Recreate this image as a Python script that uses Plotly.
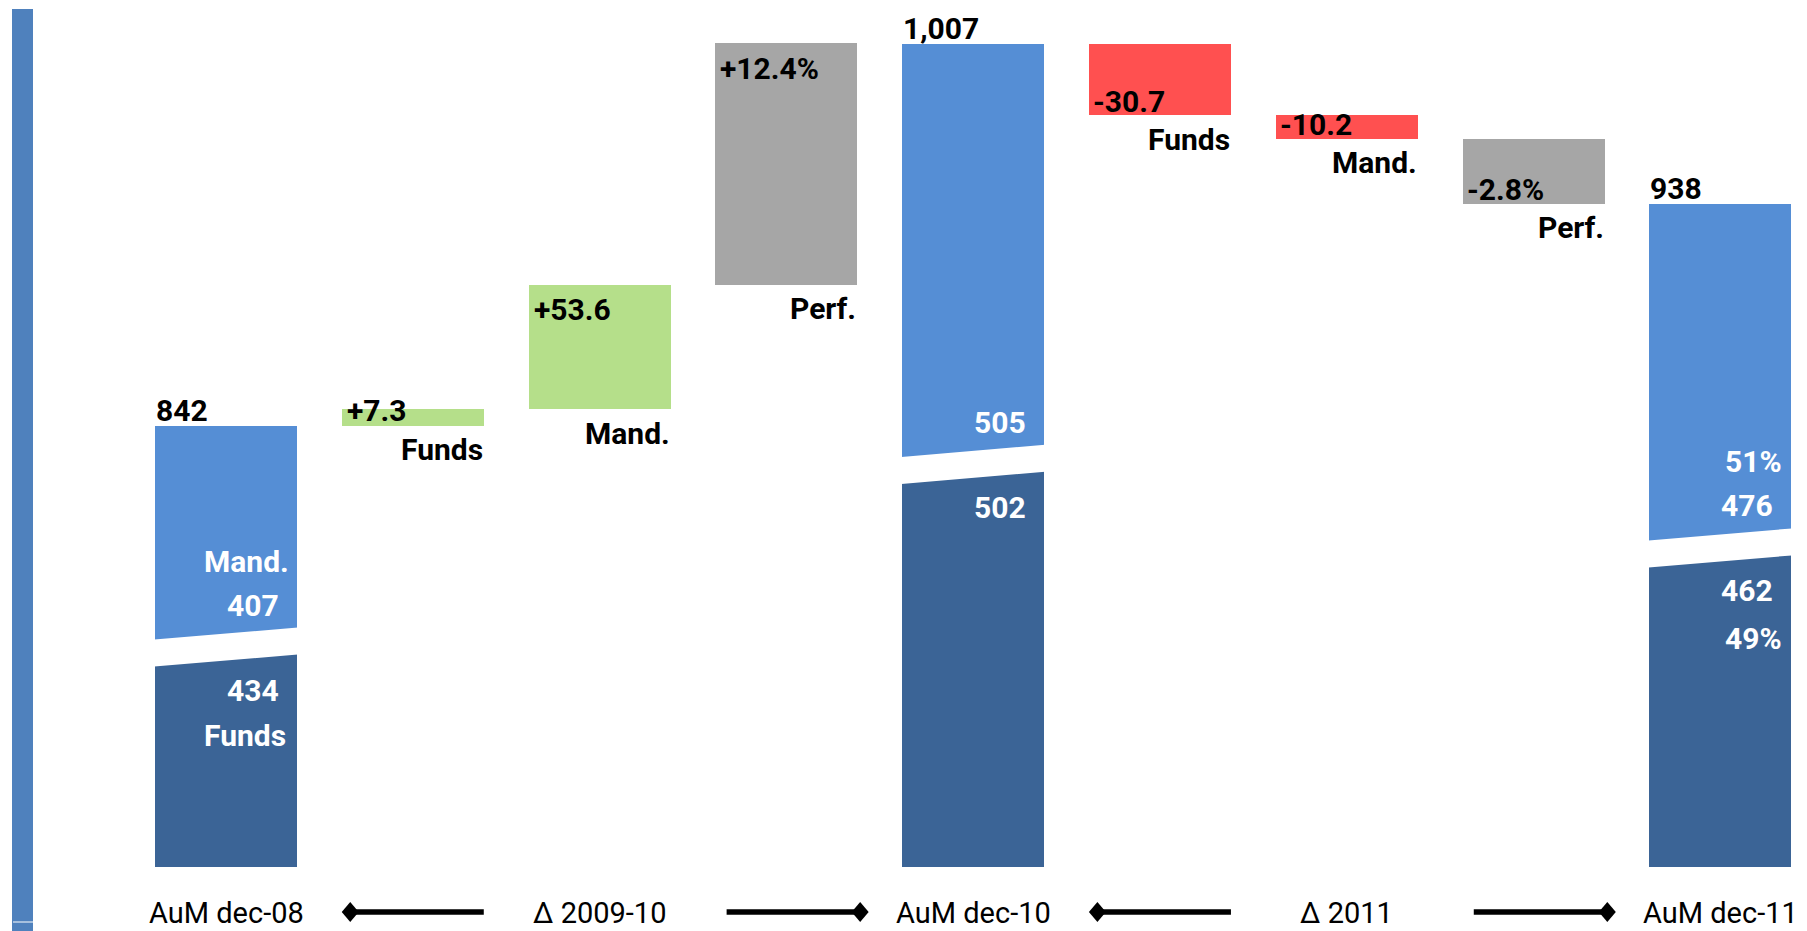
import plotly.graph_objects as go

# ---- data -------------------------------------------------------------
categories = ["AuM dec-08", "Δ 2009-10", "AuM dec-10", "Δ 2011", "AuM dec-11"]
aum_totals = [842, 1007, 938]           # total AuM at each date
aum_funds = [434, 502, 462]             # of which funds
aum_mand = [407, 505, 476]              # of which mandates
flow_names = ["Funds", "Mand.", "Perf."]
flows_2009_10 = [7.3, 53.6]             # net flows, funds / mandates
perf_2009_10 = 12.4                     # performance, % of opening AuM
flows_2011 = [-30.7, -10.2]
perf_2011 = -2.8

# ---- styling ----------------------------------------------------------
C_MAND = "#558ED5"
C_FUNDS = "#3B6496"
C_UP = "#B5DF8A"
C_DOWN = "#FF5050"
C_PERF = "#A6A6A6"
C_SIDE = "#4F81BD"
FONT = "Roboto"
BOLD = 30
REG = 29

W = 0.76                 # bar width (slot units)
Y0, Y1 = 651.5, 1026     # visible value window (broken axis)
FIG_W, FIG_H, MB = 1807, 931, 64
PX_PER_UNIT = (FIG_H - MB) / (Y1 - Y0)
GAP_DROP = 3.3           # gap centre offset below proportional split
GAP_HALF = 13.5 / PX_PER_UNIT
GAP_RISE = 12 / PX_PER_UNIT

total_slots = [0, 4, 8]
period_slots = [[1, 2, 3], [5, 6, 7]]
period_flows = [flows_2009_10, flows_2011]
period_perf = [perf_2009_10, perf_2011]

fig = go.Figure()
ann = []
shapes = []

def label(x, y, text, xanchor="left", xshift=0, yshift=0, color="black",
          bold=True, size=BOLD, xref="x", yref="y"):
    ann.append(dict(x=x, y=y, xref=xref, yref=yref, text=f"<b>{text}</b>" if bold else text,
                    showarrow=False, xanchor=xanchor, yanchor="middle",
                    xshift=xshift, yshift=yshift,
                    font=dict(family=FONT, size=size, color=color)))

# ---- stacked total bars (broken: split shown proportionally) -----------
splits = []
for slot, tot, f, m in zip(total_slots, aum_totals, aum_funds, aum_mand):
    splits.append(Y0 + (tot - Y0) * f / (f + m) - GAP_DROP)

fig.add_trace(go.Bar(x=total_slots, y=[s - Y0 for s in splits], base=[Y0] * 3,
                     width=W, marker=dict(color=C_FUNDS, line=dict(width=0)),
                     hoverinfo="skip", showlegend=False))
fig.add_trace(go.Bar(x=total_slots, y=[t - s for t, s in zip(aum_totals, splits)],
                     base=splits, width=W,
                     marker=dict(color=C_MAND, line=dict(width=0)),
                     hoverinfo="skip", showlegend=False))

for i, (slot, tot, f, m, s) in enumerate(zip(total_slots, aum_totals, aum_funds, aum_mand, splits)):
    # slanted white gap between the two segments
    x0, x1 = slot - W / 2 - 0.02, slot + W / 2 + 0.02
    yl = s - GAP_RISE * (slot - x0) / W
    yr = s + GAP_RISE * (x1 - slot) / W
    shapes.append(dict(type="path", xref="x", yref="y", layer="above",
                       path=f"M {x0},{yl - GAP_HALF} L {x1},{yr - GAP_HALF} "
                            f"L {x1},{yr + GAP_HALF} L {x0},{yl + GAP_HALF} Z",
                       fillcolor="white", line=dict(width=0)))
    # total on top
    label(slot - W / 2, tot, f"{tot:,}", xshift=-1, yshift=15)
    # values inside
    right = slot + W / 2
    label(right, s, str(m), xanchor="right", xshift=-16, yshift=42, color="white")
    label(right, s, str(f), xanchor="right", xshift=-16, yshift=-43, color="white")
    if i == 0:
        label(right, s, "Mand.", xanchor="right", xshift=-6, yshift=86, color="white")
        label(right, s, "Funds", xanchor="right", xshift=-9, yshift=-88, color="white")
    if i == 2:
        label(right, s, f"{m / tot:.0%}", xanchor="right", xshift=-7, yshift=86, color="white")
        label(right, s, f"{f / tot:.0%}", xanchor="right", xshift=-7, yshift=-91, color="white")

# ---- floating change bars --------------------------------------------
fx, fbase, fh, fcol = [], [], [], []
for p, (slots, flows, perf) in enumerate(zip(period_slots, period_flows, period_perf)):
    level = aum_totals[p]
    amounts = list(flows) + [aum_totals[p] * perf / 100]
    texts = [f"{v:+.1f}" for v in flows] + [f"{perf:+.1f}%"]
    for k, (slot, amt, txt) in enumerate(zip(slots, amounts, texts)):
        lo, hi = (level, level + amt) if amt >= 0 else (level + amt, level)
        fx.append(slot)
        fbase.append(lo)
        fh.append(hi - lo)
        fcol.append(C_PERF if k == 2 else (C_UP if amt >= 0 else C_DOWN))
        left, right = slot - W / 2, slot + W / 2
        if amt >= 0:
            tall = (hi - lo) * PX_PER_UNIT > 50
            label(left, hi, txt, xshift=3, yshift=-25 if tall else -1)
        else:
            label(left, lo, txt, xshift=2, yshift=14)
        label(right, lo, flow_names[k], xanchor="right", xshift=1, yshift=-24)
        level += amt

fig.add_trace(go.Bar(x=fx, y=fh, base=fbase, width=W,
                     marker=dict(color=fcol, line=dict(width=0)),
                     hoverinfo="skip", showlegend=False))

# ---- category labels and period arrows --------------------------------
def py(px):
    return (FIG_H - MB - px) / (FIG_H - MB)

cat_slots = [0, 2, 4, 6, 8]
for slot, name in zip(cat_slots, categories):
    label(slot, py(913), name, xanchor="center", bold=False, size=REG, yref="paper")

ARROW_Y = py(912)
DX = 8.5 / 186.8
DY = 10 / (FIG_H - MB)
for a, b in [(0, 4), (4, 8)]:
    m = (a + b) / 2
    segs = [(a + 0.665, m - 0.62, a + 0.665), (m + 0.68, b - 0.605, b - 0.605)]
    for xs, xe, xd in segs:
        shapes.append(dict(type="line", xref="x", yref="paper", x0=xs, x1=xe,
                           y0=ARROW_Y, y1=ARROW_Y, line=dict(color="black", width=5.5)))
        shapes.append(dict(type="path", xref="x", yref="paper",
                           path=f"M {xd - DX},{ARROW_Y} L {xd},{ARROW_Y + DY} "
                                f"L {xd + DX},{ARROW_Y} L {xd},{ARROW_Y - DY} Z",
                           fillcolor="black", line=dict(width=0)))

# ---- left side band ----------------------------------------------------
shapes.append(dict(type="rect", xref="paper", yref="paper", x0=12 / FIG_W, x1=33 / FIG_W,
                   y0=py(931), y1=py(9), fillcolor=C_SIDE, line=dict(width=0), layer="below"))
shapes.append(dict(type="line", xref="paper", yref="paper", x0=13 / FIG_W, x1=33 / FIG_W,
                   y0=py(922), y1=py(922), line=dict(color="white", width=1)))

fig.update_layout(
    width=FIG_W, height=FIG_H,
    margin=dict(l=0, r=0, t=0, b=MB),
    paper_bgcolor="white", plot_bgcolor="white",
    barmode="overlay", bargap=0,
    xaxis=dict(range=[-1.21, 8.464], visible=False, fixedrange=True),
    yaxis=dict(range=[Y0, Y1], visible=False, fixedrange=True),
    annotations=ann, shapes=shapes,
    showlegend=False,
)

fig.write_html("out.html", config={"displayModeBar": False})
